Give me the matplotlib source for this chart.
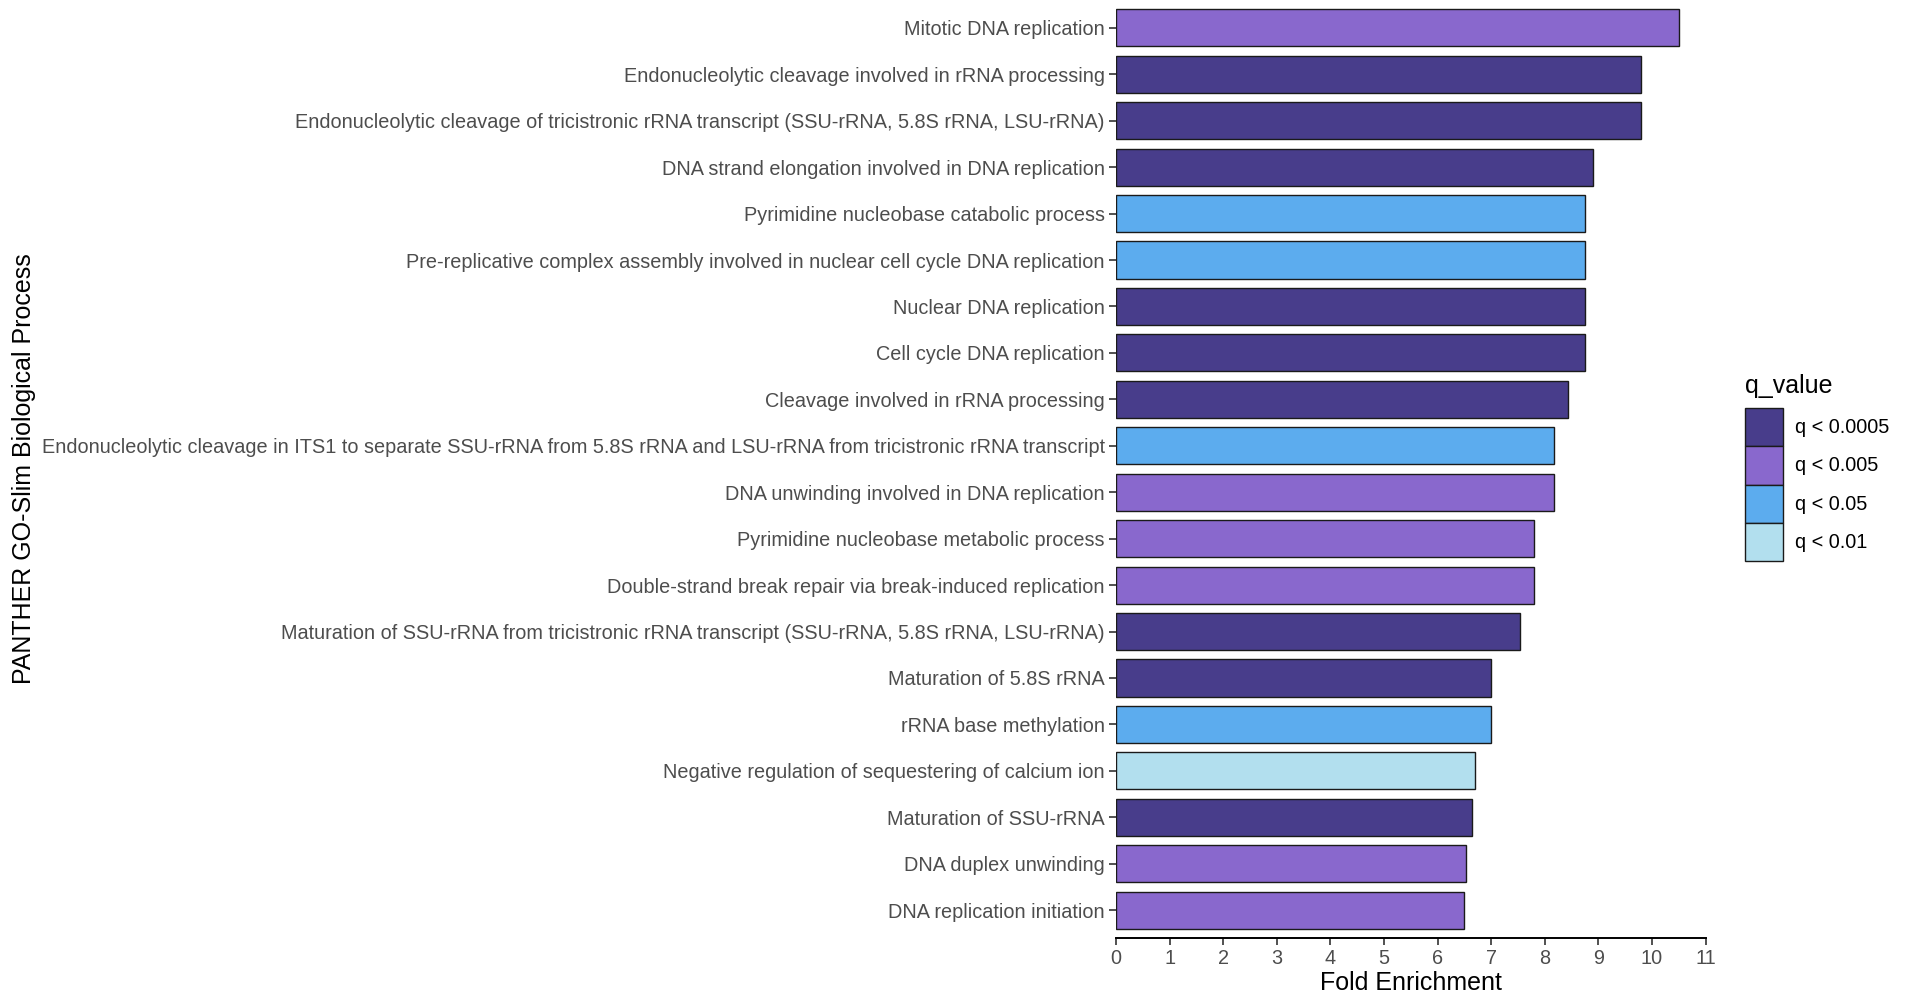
import matplotlib.pyplot as plt
from matplotlib.patches import Patch
import numpy as np

plt.rcParams['font.family'] = ['Liberation Sans', 'DejaVu Sans']

# GO terms, top to bottom as shown
terms = [
    'Mitotic DNA replication',
    'Endonucleolytic cleavage involved in rRNA processing',
    'Endonucleolytic cleavage of tricistronic rRNA transcript (SSU-rRNA, 5.8S rRNA, LSU-rRNA)',
    'DNA strand elongation involved in DNA replication',
    'Pyrimidine nucleobase catabolic process',
    'Pre-replicative complex assembly involved in nuclear cell cycle DNA replication',
    'Nuclear DNA replication',
    'Cell cycle DNA replication',
    'Cleavage involved in rRNA processing',
    'Endonucleolytic cleavage in ITS1 to separate SSU-rRNA from 5.8S rRNA and LSU-rRNA from tricistronic rRNA transcript',
    'DNA unwinding involved in DNA replication',
    'Pyrimidine nucleobase metabolic process',
    'Double-strand break repair via break-induced replication',
    'Maturation of SSU-rRNA from tricistronic rRNA transcript (SSU-rRNA, 5.8S rRNA, LSU-rRNA)',
    'Maturation of 5.8S rRNA',
    'rRNA base methylation',
    'Negative regulation of sequestering of calcium ion',
    'Maturation of SSU-rRNA',
    'DNA duplex unwinding',
    'DNA replication initiation',
]
fold_enrichment = [10.5, 9.8, 9.8, 8.9, 8.75, 8.75, 8.75, 8.75, 8.43, 8.17,
                   8.17, 7.8, 7.8, 7.54, 7.0, 7.0, 6.69, 6.65, 6.54, 6.49]
q_group = ['q < 0.005', 'q < 0.0005', 'q < 0.0005', 'q < 0.0005', 'q < 0.05',
           'q < 0.05', 'q < 0.0005', 'q < 0.0005', 'q < 0.0005', 'q < 0.05',
           'q < 0.005', 'q < 0.005', 'q < 0.005', 'q < 0.0005', 'q < 0.0005',
           'q < 0.05', 'q < 0.01', 'q < 0.0005', 'q < 0.005', 'q < 0.005']

legend_levels = ['q < 0.0005', 'q < 0.005', 'q < 0.05', 'q < 0.01']
palette = {
    'q < 0.0005': '#483D8B',
    'q < 0.005': '#8968CD',
    'q < 0.05': '#5CACEE',
    'q < 0.01': '#B2DFEE',
}

fig = plt.figure(figsize=(19.13, 9.98), dpi=100)
ax = fig.add_axes([1116 / 1913, 60 / 998, (1705.5 - 1116) / 1913, 938 / 998])

y = np.arange(len(terms))[::-1]
ax.barh(y, fold_enrichment, height=0.8,
        color=[palette[g] for g in q_group], edgecolor='#1a1a1a', linewidth=1.0)

ax.set_xlim(0, 11)
ax.set_ylim(-0.6, len(terms) - 1 + 0.6)
ax.set_xticks(range(0, 12))
ax.set_yticks(y)
ax.set_yticklabels(terms)

for s in ['top', 'right', 'left']:
    ax.spines[s].set_visible(False)
ax.spines['bottom'].set_linewidth(1.4)
ax.tick_params(axis='both', labelsize=14.3, labelcolor='#4D4D4D', color='#333333',
               length=5, width=1.2, pad=3)

ax.set_xlabel('Fold Enrichment', fontsize=18, labelpad=2)
fig.text(24 / 1913, 1 - 469 / 998, 'PANTHER GO-Slim Biological Process',
         rotation=90, fontsize=18, ha='center', va='center')

handles = [Patch(facecolor=palette[l], edgecolor='#1a1a1a', linewidth=1.0, label=l)
           for l in legend_levels]
leg = fig.legend(handles=handles, title='q_value', loc='upper left',
                 bbox_to_anchor=(1745 / 1913, 1 - 374 / 998), frameon=False,
                 fontsize=14.3, title_fontsize=18, handlelength=1.9,
                 handleheight=2.6, labelspacing=0.0, handletextpad=0.6,
                 borderaxespad=0, borderpad=0)
leg._legend_box.align = 'left'
leg._legend_box.sep = 7

fig.savefig('out.png', dpi=100)
